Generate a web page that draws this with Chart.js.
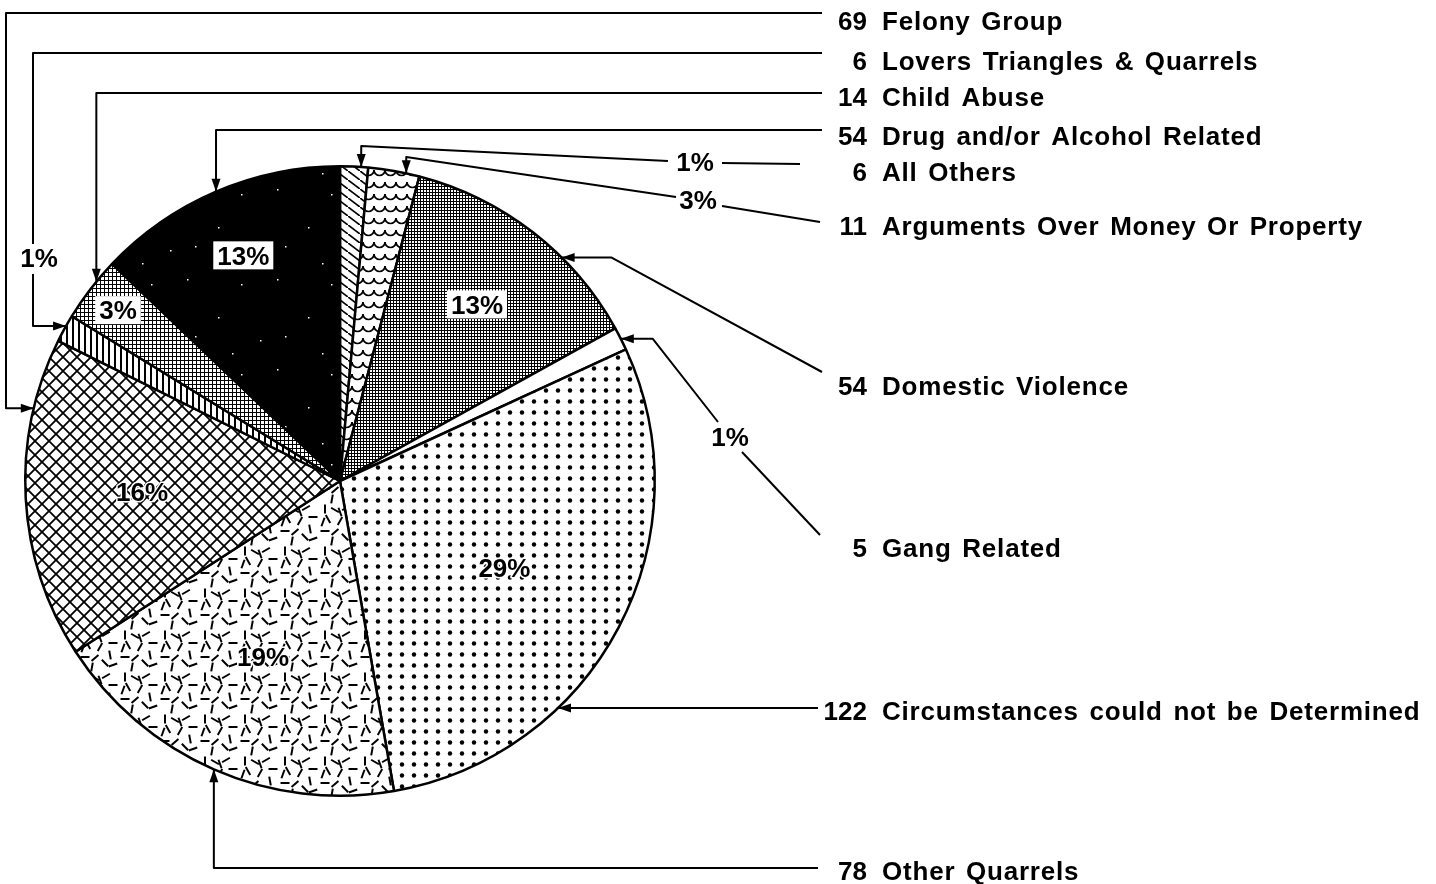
<!DOCTYPE html>
<html>
<head>
<meta charset="utf-8">
<script src="https://cdn.jsdelivr.net/npm/chart.js@4.4.0/dist/chart.umd.min.js"></script>
<style>
  html, body { margin: 0; padding: 0; background: #fff; }
  canvas { display: block; }
</style>
</head>
<body>
<canvas id="pie" width="1436" height="884"></canvas>
<script>
// slices, clockwise from 12 o'clock
var categories = [
  'All Others',
  'Arguments Over Money Or Property',
  'Domestic Violence',
  'Gang Related',
  'Circumstances could not be Determined',
  'Other Quarrels',
  'Felony Group',
  'Lovers Triangles & Quarrels',
  'Child Abuse',
  'Drug and/or Alcohol Related'
];
var counts = [6, 11, 54, 5, 122, 78, 69, 6, 14, 54];

var canvas = document.getElementById('pie');
var ctx = canvas.getContext('2d');
var FONT = 'bold 26px "Liberation Sans", Arial, sans-serif';
var hasLS = 'letterSpacing' in ctx;
var LETTER_GAP = 0.8;
var WORD_GAP = hasLS ? 2.6 : 9.5; // the print is loosely set

function makeTile(w, h, bg, draw) {
  var c = document.createElement('canvas');
  c.width = w; c.height = h;
  var g = c.getContext('2d');
  g.fillStyle = bg; g.fillRect(0, 0, w, h);
  g.strokeStyle = '#000'; g.fillStyle = '#000';
  draw(g, w, h);
  return ctx.createPattern(c, 'repeat');
}

// fill patterns, same order as categories
var diagLines = makeTile(12, 9, '#fff', function (g) {
  g.lineWidth = 1.7;
  g.beginPath(); g.moveTo(-6, -4.5); g.lineTo(18, 13.5); g.stroke();
});
var scallops = makeTile(11, 12, '#fff', function (g) {
  g.lineWidth = 1.7;
  g.beginPath(); g.arc(5.5, 2, 5.5, 0, Math.PI); g.stroke();
});
var darkGrid = makeTile(3, 3, '#fff', function (g) {
  g.fillRect(0, 0, 3, 1); g.fillRect(0, 0, 1, 3);
});
var dots = makeTile(12, 11, '#fff', function (g) {
  g.beginPath(); g.arc(6, 5.5, 2.2, 0, Math.PI * 2); g.fill();
});
var dashSegs = [[5,5,90],[15,6,30],[26,4,150],[33,13,0],[8,15,60],[20,17,120],
  [30,25,80],[5,27,0],[15,28,140],[25,33,45],[12,37,100],[33,35,160],[20,8,70],[3,18,110]];
var dashes = makeTile(40, 42, '#fff', function (g) {
  g.lineWidth = 2;
  dashSegs.forEach(function (d) {
    var a = d[2] * Math.PI / 180, dx = Math.cos(a) * 4.5, dy = Math.sin(a) * 4.5;
    g.beginPath(); g.moveTo(d[0] - dx, d[1] - dy); g.lineTo(d[0] + dx, d[1] + dy); g.stroke();
  });
});
var crossHatch = makeTile(14, 14, '#fff', function (g) {
  g.lineWidth = 1.8;
  g.beginPath();
  g.moveTo(-2, -2); g.lineTo(16, 16);
  g.moveTo(16, -2); g.lineTo(-2, 16);
  g.stroke();
});
var vertLines = makeTile(6, 4, '#fff', function (g) {
  g.fillRect(0, 0, 2, 4);
});
var lightGrid = makeTile(4, 4, '#fff', function (g) {
  g.fillRect(0, 0, 4, 1); g.fillRect(0, 0, 1, 4);
});
var specks = makeTile(90, 90, '#000', function (g) {
  g.fillStyle = '#fff';
  [[7,9],[61,14],[38,47],[80,70],[15,66],[52,83]].forEach(function (p) {
    g.fillRect(p[0], p[1], 1.5, 1.5);
  });
});
var fills = [diagLines, scallops, darkGrid, '#fff', dots, dashes, crossHatch, vertLines, lightGrid, specks];

// where the percentage sits inside a slice (fraction of radius), null = outside
var pctRadius = [null, null, 0.71, null, 0.59, 0.61, 0.63, null, 0.89, 0.78];
var pctBoxed = [false, false, true, false, false, false, false, false, true, true];

// right-hand label rows (centre y of text)
var labelY = [172, 226, 386, 548, 711, 871, 21, 61, 97, 136];
// where along the slice the callout arrow hits the rim
var hitFrac = [0.75, 0.74, 0.65, 0.5, 0.676, 0.5, 0.78, 0.6, 0.64, 0.5];

function arrowLine(pts) {
  ctx.beginPath();
  ctx.moveTo(pts[0][0], pts[0][1]);
  for (var i = 1; i < pts.length; i++) ctx.lineTo(pts[i][0], pts[i][1]);
  ctx.stroke();
  var a = pts[pts.length - 1], b = pts[pts.length - 2];
  var ang = Math.atan2(a[1] - b[1], a[0] - b[0]);
  ctx.beginPath();
  ctx.moveTo(a[0], a[1]);
  ctx.lineTo(a[0] - 13 * Math.cos(ang) + 4.5 * Math.sin(ang), a[1] - 13 * Math.sin(ang) - 4.5 * Math.cos(ang));
  ctx.lineTo(a[0] - 13 * Math.cos(ang) - 4.5 * Math.sin(ang), a[1] - 13 * Math.sin(ang) + 4.5 * Math.cos(ang));
  ctx.closePath();
  ctx.fill();
}

function line(x1, y1, x2, y2) {
  ctx.beginPath(); ctx.moveTo(x1, y1); ctx.lineTo(x2, y2); ctx.stroke();
}

function spacedText(t, x, y) {
  if (hasLS) ctx.letterSpacing = LETTER_GAP + 'px';
  var words = t.split(' ');
  var sp = ctx.measureText(' ').width + WORD_GAP;
  words.forEach(function (w) {
    ctx.fillText(w, x, y);
    x += ctx.measureText(w).width + sp;
  });
  if (hasLS) ctx.letterSpacing = '0px';
}

function pctText(t, x, y, boxed) {
  var w = ctx.measureText(t).width;
  if (boxed) {
    ctx.fillStyle = '#fff';
    ctx.fillRect(x - w / 2 - 4, y - 14, w + 8, 28);
  } else {
    ctx.strokeStyle = '#fff'; ctx.lineWidth = 3; ctx.lineJoin = 'round';
    ctx.strokeText(t, x, y + 2);
  }
  ctx.fillStyle = '#000';
  ctx.fillText(t, x, y + 2);
}

var calloutPlugin = {
  id: 'callouts',
  afterDraw: function (chart) {
    var arcs = chart.getDatasetMeta(0).data;
    var total = counts.reduce(function (s, v) { return s + v; }, 0);
    var pct = counts.map(function (v) { return Math.round(v / total * 100) + '%'; });
    var hit = arcs.map(function (arc, i) {
      var a = arc.startAngle + (arc.endAngle - arc.startAngle) * hitFrac[i];
      return [arc.x + Math.cos(a) * arc.outerRadius, arc.y + Math.sin(a) * arc.outerRadius];
    });

    ctx.save();
    ctx.font = FONT;
    ctx.textBaseline = 'middle';

    // percentages inside the slices
    ctx.textAlign = 'center';
    arcs.forEach(function (arc, i) {
      if (pctRadius[i] === null) return;
      var m = (arc.startAngle + arc.endAngle) / 2;
      var r = arc.outerRadius * pctRadius[i];
      pctText(pct[i], arc.x + Math.cos(m) * r, arc.y + Math.sin(m) * r, pctBoxed[i]);
    });

    // callout lines
    ctx.strokeStyle = '#000'; ctx.fillStyle = '#000'; ctx.lineWidth = 2;
    var h;
    h = hit[6]; arrowLine([[822, 13], [6, 13], [6, h[1]], h]);
    h = hit[7]; arrowLine([[822, 53], [33, 53], [33, h[1]], h]);
    h = hit[8]; arrowLine([[822, 93], [h[0], 93], h]);
    h = hit[9]; arrowLine([[822, 130], [h[0], 130], h]);
    h = hit[0]; arrowLine([[668, 161], [h[0], 146], h]);
    line(722, 163, 800, 164);
    h = hit[1]; arrowLine([[676, 197], [h[0], 157], h]);
    line(722, 206, 820, 222);
    h = hit[2]; arrowLine([[822, 372], [h[0] + 50, h[1]], h]);
    h = hit[3]; arrowLine([[718, 422], [h[0] + 32, h[1]], h]);
    line(742, 452, 820, 535);
    h = hit[4]; arrowLine([[818, h[1]], h]);
    h = hit[5]; arrowLine([[818, 868], [h[0], 868], h]);

    // outside percentages
    ctx.textAlign = 'center';
    ctx.fillStyle = '#fff'; ctx.fillRect(16, 244, 46, 30);
    ctx.fillStyle = '#000';
    ctx.fillText(pct[7], 39, 260);
    ctx.fillText(pct[0], 695, 164);
    ctx.fillText(pct[1], 698, 202);
    ctx.fillText(pct[3], 730, 439);

    // right-hand labels
    for (var i = 0; i < categories.length; i++) {
      ctx.textAlign = 'right';
      ctx.fillText(String(counts[i]), 867, labelY[i] + 2);
      ctx.textAlign = 'left';
      spacedText(categories[i], 882, labelY[i] + 2);
    }
    ctx.restore();
  }
};

new Chart(ctx, {
  type: 'pie',
  data: {
    labels: categories,
    datasets: [{
      data: counts,
      backgroundColor: fills,
      borderColor: '#000',
      borderWidth: 2.5
    }]
  },
  options: {
    responsive: false,
    animation: false,
    events: [],
    layout: { padding: { left: 24, right: 780, top: 165, bottom: 87 } },
    plugins: {
      legend: { display: false },
      tooltip: { enabled: false }
    }
  },
  plugins: [calloutPlugin]
});
</script>
</body>
</html>
